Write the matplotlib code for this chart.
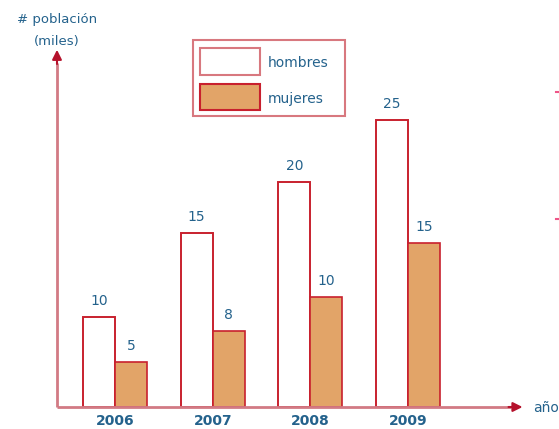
import matplotlib.pyplot as plt
from matplotlib.patches import Rectangle

years = ["2006", "2007", "2008", "2009"]
# values printed above the bars (thousands)
hombres_labels = ["10", "15", "20", "25"]
mujeres_labels = ["5", "8", "10", "15"]
# bar heights as drawn in the picture (thousands)
hombres = [10.0, 19.3, 25.0, 31.9]
mujeres = [5.0, 8.4, 12.2, 18.2]

bar_edge = "#c8202e"
fill_m = "#e2a468"
text_c = "#24628c"
axis_c = "#d27a84"
arrow_c = "#b5122c"

W, H = 559, 429
fig = plt.figure(figsize=(W / 100, H / 100), dpi=100)

# axes placed so that the origin sits at pixel (57, 407)
x0, y0 = 57, 407
ax = fig.add_axes([x0 / W, (H - y0) / H, 468 / W, 360 / H])
ax.set_xlim(-0.594, 4.197)
ax.set_ylim(0, 40)
ax.axis("off")

w = 0.327
xs = list(range(len(years)))
ax.bar([x - w / 2 for x in xs], hombres, width=w, color="white",
       edgecolor=bar_edge, linewidth=1.4)
ax.bar([x + w / 2 for x in xs], mujeres, width=w, color=fill_m,
       edgecolor=bar_edge, linewidth=1.2)

for x, h, lab in zip(xs, hombres, hombres_labels):
    ax.text(x - w / 2, h + 1.0, lab, ha="center", va="bottom",
            fontsize=10, color=text_c)
for x, h, lab in zip(xs, mujeres, mujeres_labels):
    ax.text(x + w / 2, h + 1.0, lab, ha="center", va="bottom",
            fontsize=10, color=text_c)
for x, y in zip(xs, years):
    ax.text(x, -1.55, y, ha="center", va="center", fontsize=10,
            fontweight="bold", color=text_c)

# axes with arrows
ax.plot([-0.594, 4.05], [0, 0], color=axis_c, lw=2, clip_on=False,
        solid_capstyle="butt")
ax.plot([-0.594, -0.594], [0, 38.2], color=axis_c, lw=2, clip_on=False,
        solid_capstyle="butt")
ax.annotate("", xy=(4.2, 0), xytext=(4.0, 0),
            arrowprops=dict(arrowstyle="-|>", color=arrow_c, lw=1.5,
                            mutation_scale=14), annotation_clip=False)
ax.annotate("", xy=(-0.594, 40), xytext=(-0.594, 37.8),
            arrowprops=dict(arrowstyle="-|>", color=arrow_c, lw=1.5,
                            mutation_scale=14), annotation_clip=False)

fig.text(533 / W, 1 - 408 / H, "año", ha="left", va="center",
         fontsize=10, color=text_c)
fig.text(57 / W, 1 - 20 / H, "# población", ha="center", va="center",
         fontsize=9.5, color=text_c)
fig.text(57 / W, 1 - 42 / H, "(miles)", ha="center", va="center",
         fontsize=9.5, color=text_c)

# legend box drawn by hand
def px_rect(x, y, w_, h_, **kw):
    fig.add_artist(Rectangle((x / W, 1 - (y + h_) / H), w_ / W, h_ / H,
                             transform=fig.transFigure, **kw))

px_rect(193, 40, 152, 76, facecolor="white", edgecolor="#d8787f", lw=1.5)
px_rect(200, 48, 60, 27, facecolor="white", edgecolor="#d8787f", lw=1.5)
px_rect(200, 84, 60, 26, facecolor=fill_m, edgecolor=bar_edge, lw=1.5)
fig.text(268 / W, 1 - 63 / H, "hombres", ha="left", va="center",
         fontsize=10, color=text_c)
fig.text(268 / W, 1 - 99 / H, "mujeres", ha="left", va="center",
         fontsize=10, color=text_c)

# small marks at the right edge
for yy in (92, 219):
    fig.add_artist(plt.Line2D([556 / W, 559 / W], [1 - yy / H] * 2,
                              color="#ee5588", lw=1.5))

fig.savefig("out.png", dpi=100)
